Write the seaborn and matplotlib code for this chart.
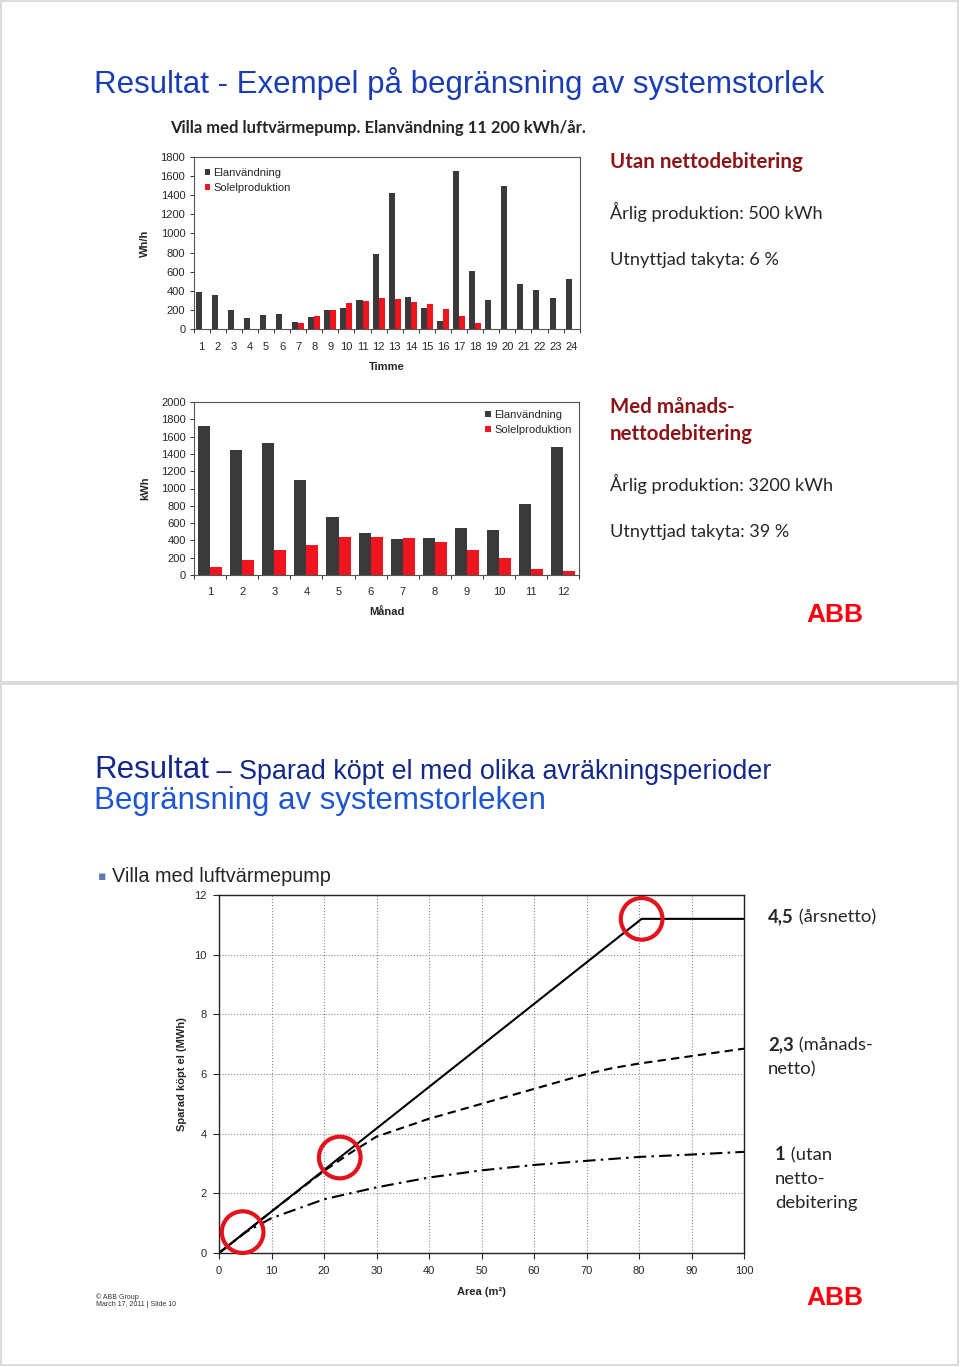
import numpy as np
import pandas as pd
import matplotlib
matplotlib.use('Agg')
import matplotlib.pyplot as plt
import seaborn as sns
from matplotlib.patches import Rectangle

# ---------------- data ----------------
series = ['Elanvändning', 'Solelproduktion']
hours = [str(i) for i in range(1, 25)]
hour_el = [390, 360, 200, 110, 150, 160, 75, 130, 200, 225, 305, 790,
           1420, 335, 220, 85, 1650, 610, 305, 1500, 475, 410, 320, 520]
hour_sol = [5, 5, 3, 3, 5, 5, 65, 135, 200, 270, 295, 325,
            310, 285, 260, 210, 140, 65, 5, 5, 5, 5, 5, 5]
months = [str(i) for i in range(1, 13)]
month_el = [1720, 1440, 1530, 1100, 665, 480, 420, 430, 540, 525, 825, 1475]
month_sol = [95, 175, 290, 345, 445, 435, 425, 385, 290, 195, 65, 50]

line_names = ['årsnetto', 'månadsnetto', 'utan nettodebitering']
area_solid = [0, 80.5, 100]
mwh_solid = [0, 11.2, 11.2]
area_dash = [0, 10, 20, 25, 30, 40, 50, 60, 70, 75, 80, 90, 100]
mwh_dash = [0, 1.39, 2.75, 3.35, 3.9, 4.5, 5.0, 5.5, 6.0, 6.2, 6.35, 6.6, 6.85]
area_dashdot = [0, 5, 10, 20, 30, 40, 50, 60, 70, 80, 90, 100]
mwh_dashdot = [0, 0.69, 1.17, 1.8, 2.2, 2.53, 2.77, 2.95, 3.09, 3.22, 3.3, 3.39]
circle_area = [4.5, 23, 80.5]
circle_mwh = [0.7, 3.2, 11.2]

# ---------------- style ----------------
sns.set_style('white')
plt.rcParams['font.family'] = ['Liberation Sans', 'DejaVu Sans']
W, H = 960, 1367
fig = plt.figure(figsize=(W / 100, H / 100), dpi=100)


def fx(x):
    return x / W


def fy(y):
    return 1 - y / H


def axrect(l, t, r, b):
    return [fx(l), fy(b), fx(r) - fx(l), fy(t) - fy(b)]


# slide borders
for (top, bot) in [(1, 682), (684, 1365)]:
    fig.patches.append(Rectangle((fx(1), fy(bot)), fx(957), (bot - top) / H,
                                 transform=fig.transFigure, fill=False,
                                 edgecolor='#d4d4d4', linewidth=1.2))

pal = {'Elanvändning': '#3a3a3a', 'Solelproduktion': '#ee1520'}
BLUE = '#1a3db5'
DARKRED = '#8b1518'
LATO = ['Lato', 'DejaVu Sans']


def style_bar_axes(ax, ymax, step, n):
    ax.set_ylim(0, ymax)
    ax.set_yticks(range(0, ymax + 1, step))
    ax.set_xlim(-0.5, n - 0.5)
    ax.set_xticks(np.arange(-0.5, n, 1.0), minor=True)
    ax.tick_params(axis='x', which='major', length=0, pad=9, labelsize=8)
    ax.tick_params(axis='x', which='minor', length=3, width=0.7,
                   direction='out', color='#333333', bottom=True)
    ax.tick_params(axis='y', length=3, width=0.7, pad=3, labelsize=8,
                   direction='out', color='#333333', left=True)
    for s in ax.spines.values():
        s.set_color('#555555')
        s.set_linewidth(0.8)
    ax.grid(False)


# ---------------- hourly chart ----------------
ax1 = fig.add_axes(axrect(193.6, 157, 579.7, 329))
df1 = pd.DataFrame({
    'Timme': hours * 2,
    'Wh/h': hour_el + hour_sol,
    'Serie': [series[0]] * 24 + [series[1]] * 24,
})
sns.barplot(data=df1, x='Timme', y='Wh/h', hue='Serie', hue_order=series,
            palette=pal, width=0.75, gap=0, saturation=1, ax=ax1,
            edgecolor='none', linewidth=0, errorbar=None)
style_bar_axes(ax1, 1800, 200, 24)
ax1.set_xlabel('Timme', fontweight='bold', fontsize=8)
ax1.set_ylabel('Wh/h', fontweight='bold', fontsize=8)
ax1.xaxis.set_label_coords(0.5, -0.19)
ax1.yaxis.set_label_coords(-0.113, 0.5)
ax1.legend(loc='upper left', frameon=False, fontsize=8, handlelength=0.5,
           handleheight=0.5, handletextpad=0.3, labelspacing=0.45,
           bbox_to_anchor=(0.0, 1.0), borderaxespad=0.6)

# ---------------- monthly chart ----------------
ax2 = fig.add_axes(axrect(194, 402, 579.4, 575))
df2 = pd.DataFrame({
    'Månad': months * 2,
    'kWh': month_el + month_sol,
    'Serie': [series[0]] * 12 + [series[1]] * 12,
})
sns.barplot(data=df2, x='Månad', y='kWh', hue='Serie', hue_order=series,
            palette=pal, width=0.75, gap=0, saturation=1, ax=ax2,
            edgecolor='none', linewidth=0, errorbar=None)
style_bar_axes(ax2, 2000, 200, 12)
ax2.tick_params(axis='x', which='major', pad=9)
ax2.set_xlabel('Månad', fontweight='bold', fontsize=8)
ax2.set_ylabel('kWh', fontweight='bold', fontsize=8)
ax2.xaxis.set_label_coords(0.5, -0.185)
ax2.yaxis.set_label_coords(-0.114, 0.5)
ax2.legend(loc='upper right', frameon=False, fontsize=8, handlelength=0.5,
           handleheight=0.5, handletextpad=0.3, labelspacing=0.45,
           borderaxespad=0.3)

# ---------------- line chart ----------------
ax3 = fig.add_axes(axrect(219, 895, 744, 1253))
df3 = pd.DataFrame({
    'Area': area_solid + area_dash + area_dashdot,
    'MWh': mwh_solid + mwh_dash + mwh_dashdot,
    'Serie': [line_names[0]] * len(area_solid) + [line_names[1]] * len(area_dash)
    + [line_names[2]] * len(area_dashdot),
})
sns.lineplot(data=df3, x='Area', y='MWh', style='Serie', style_order=line_names,
             dashes={line_names[0]: '', line_names[1]: (4, 2.5),
                     line_names[2]: (6, 2.5, 1.2, 2.5)},
             color='black', linewidth=1.5, legend=False, ax=ax3,
             estimator=None, sort=True)
ax3.scatter(circle_area, circle_mwh, s=900, facecolors='none',
            edgecolors='#e3121b', linewidths=3, zorder=5, clip_on=False)
ax3.set_xlim(0, 100)
ax3.set_ylim(0, 12)
ax3.set_xticks(range(0, 101, 10))
ax3.set_yticks(range(0, 13, 2))
ax3.grid(True, linestyle=':', color='#8a8a8a', linewidth=0.8)
ax3.tick_params(length=4, width=0.8, pad=5, labelsize=8, direction='out',
                bottom=True, left=True)
for s in ax3.spines.values():
    s.set_color('#222222')
    s.set_linewidth(1.0)
ax3.set_xlabel('Area (m²)', fontweight='bold', fontsize=8)
ax3.set_ylabel('Sparad köpt el (MWh)', fontweight='bold', fontsize=8)
ax3.xaxis.set_label_coords(0.5, -0.095)
ax3.yaxis.set_label_coords(-0.061, 0.5)

# ---------------- texts: top slide ----------------
fig.text(fx(94), fy(83), 'Resultat - Exempel på begränsning av systemstorlek',
         fontsize=22.5, color=BLUE, va='center', ha='left')
fig.text(fx(170), fy(128), 'Villa med luftvärmepump. Elanvändning 11 200 kWh/år.',
         fontsize=12, fontweight='bold', family=LATO, va='center', ha='left')

fig.text(fx(610), fy(162), 'Utan nettodebitering', fontsize=14.8, fontweight='bold',
         color=DARKRED, family=LATO, va='center')
fig.text(fx(610), fy(212), 'Årlig produktion: 500 kWh', fontsize=13.1,
         family=LATO, va='center')
fig.text(fx(610), fy(260), 'Utnyttjad takyta: 6 %', fontsize=13.1,
         family=LATO, va='center')
fig.text(fx(610), fy(407), 'Med månads-', fontsize=14.8, fontweight='bold',
         color=DARKRED, family=LATO, va='center')
fig.text(fx(610), fy(434), 'nettodebitering', fontsize=14.8, fontweight='bold',
         color=DARKRED, family=LATO, va='center')
fig.text(fx(610), fy(484), 'Årlig produktion: 3200 kWh', fontsize=13.1,
         family=LATO, va='center')
fig.text(fx(610), fy(532), 'Utnyttjad takyta: 39 %', fontsize=13.1,
         family=LATO, va='center')

for ly in (615, 1298):
    fig.text(fx(835), fy(ly), 'ABB', fontsize=19, fontweight='heavy',
             color='#ff000f', va='center', ha='center')

# ---------------- texts: bottom slide ----------------
t1 = fig.text(fx(94), fy(778), 'Resultat', fontsize=22.5, color='#14288c',
              va='baseline', ha='left')
ax3.annotate(' – Sparad köpt el med olika avräkningsperioder', xy=(1, 0),
             xycoords=t1, fontsize=19.4, color='#14288c', va='bottom',
             ha='left', annotation_clip=False)
fig.text(fx(94), fy(801), 'Begränsning av systemstorleken', fontsize=22.5,
         color='#1e55d2', va='center', ha='left')
fig.text(fx(98), fy(877), '▪', fontsize=9, color='#5a7bb0', va='center',
         family=['DejaVu Sans'])
fig.text(fx(112), fy(876), 'Villa med luftvärmepump', fontsize=14.3, va='center')


def mixed(x, y, bold, rest):
    t = fig.text(fx(x), fy(y), bold, fontsize=13.3, fontweight='bold',
                 family=LATO, va='center', ha='left')
    if rest:
        ax3.annotate(rest, xy=(1, 0), xycoords=t, fontsize=13.3, family=LATO,
                     va='bottom', ha='left', annotation_clip=False)


mixed(768, 917, '4,5', ' (årsnetto)')
mixed(768, 1045, '2,3', ' (månads-')
fig.text(fx(768), fy(1069), 'netto)', fontsize=13.3, family=LATO, va='center')
mixed(775, 1155, '1', ' (utan')
fig.text(fx(775), fy(1179), 'netto-', fontsize=13.3, family=LATO, va='center')
fig.text(fx(775), fy(1203), 'debitering', fontsize=13.3, family=LATO, va='center')

fig.text(fx(96), fy(1297), '© ABB Group', fontsize=5, color='#333333', va='center')
fig.text(fx(96), fy(1305), 'March 17, 2011 | Slide 10', fontsize=5,
         color='#333333', va='center')

fig.savefig('out.png', dpi=100, facecolor='white')
